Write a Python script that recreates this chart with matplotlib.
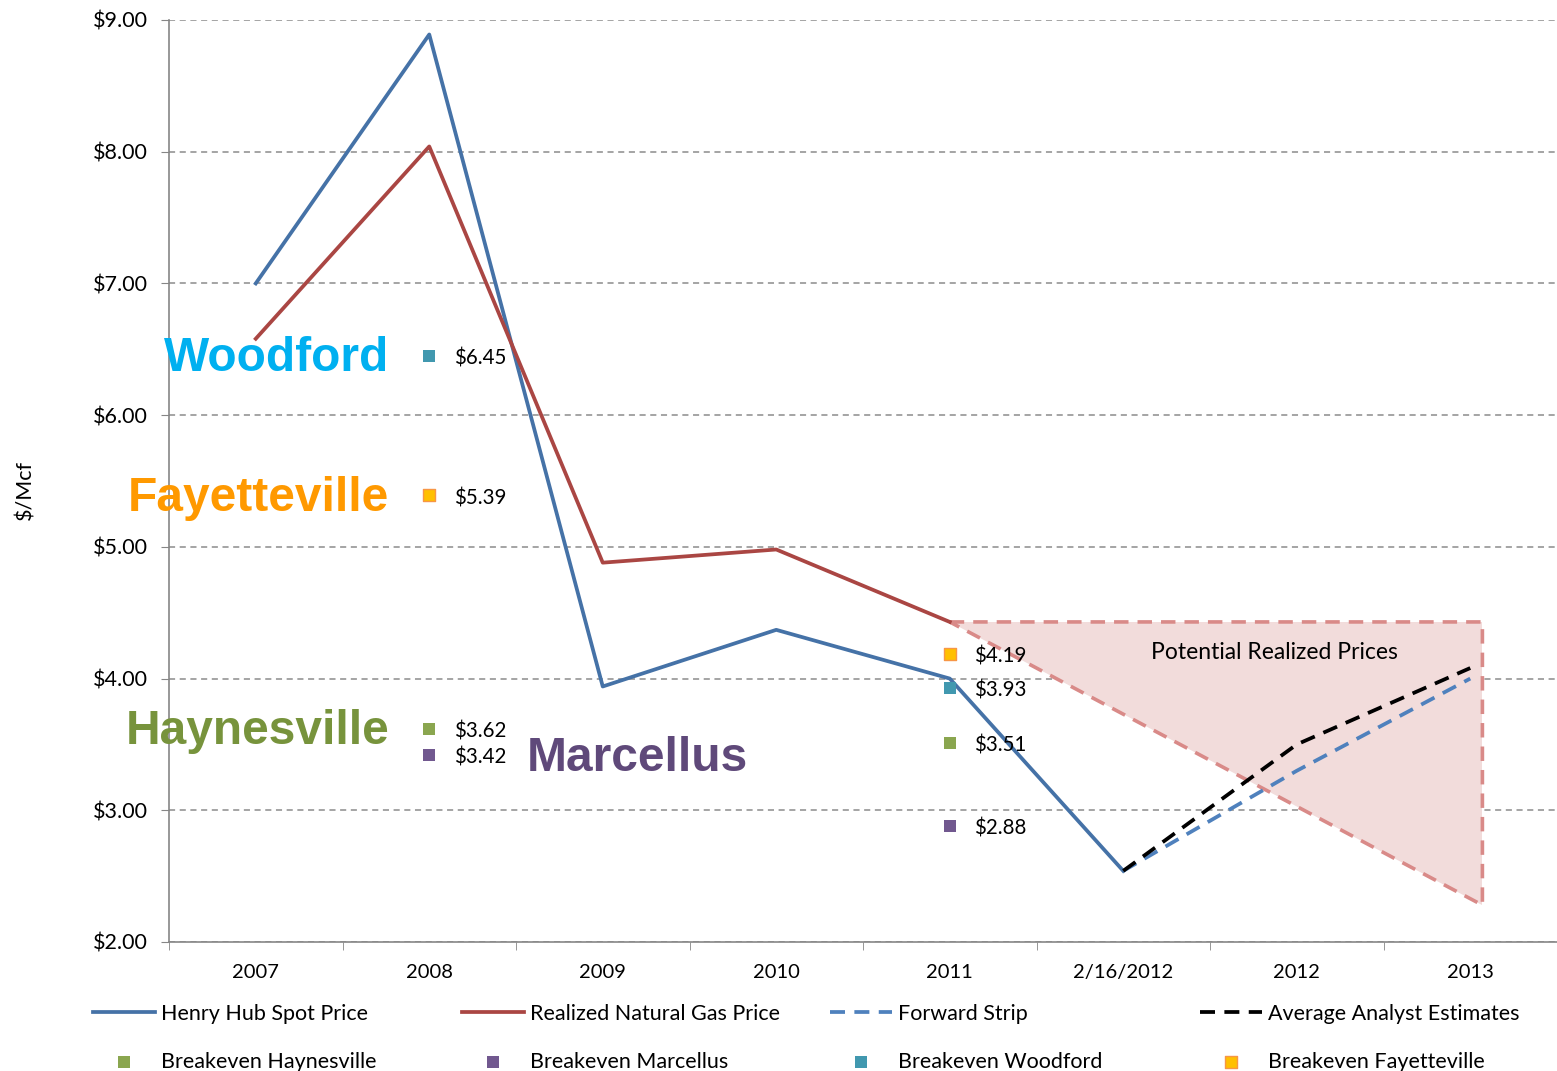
import matplotlib
matplotlib.use("Agg")
import matplotlib.pyplot as plt
from matplotlib.ticker import FixedLocator, FuncFormatter

# dados
categorias = ["2007", "2008", "2009", "2010", "2011", "2/16/2012", "2012", "2013"]
henry_hub = [7.00, 8.89, 3.94, 4.37, 4.00, 2.54]
realizado = [6.58, 8.04, 4.88, 4.98, 4.43]
forward_strip = [2.54, 3.30, 4.00]
analistas = [2.54, 3.50, 4.08]

# breakeven: (2008, 2011)
be_haynesville = [3.62, 3.51]
be_marcellus = [3.42, 2.88]
be_woodford = [6.45, 3.93]
be_fayetteville = [5.39, 4.19]

# triângulo de preços potenciais (2011 -> 2013)
tri_topo = 4.43
tri_base = 2.28

cor_hh = "#4572A7"
cor_real = "#AA4643"
cor_fwd = "#4F81BD"
cor_hay = "#8AA64F"
cor_mar = "#71588F"
cor_woo = "#4198AF"
cor_fay = "#FFC000"

plt.rcParams["font.family"] = ["Lato", "DejaVu Sans"]

fig = plt.figure(figsize=(15.57, 10.71), dpi=100)
ax = fig.add_axes([169/1557, 1 - 942/1071, 1 - 169/1557, (942 - 20)/1071])

x = list(range(len(categorias)))

# triângulo
xt = [4, 7.07, 7.07, 4]
yt = [tri_topo, tri_topo, tri_base, tri_topo]
ax.fill(xt[:3], yt[:3], color="#F2DCDB", zorder=1, lw=0)
ax.plot(xt, yt, color="#D98A88", lw=2.6, dashes=(4, 2.5), zorder=2)
ax.text(5.87, 4.2, "Potential Realized Prices", fontsize=16.5, ha="center", va="center", zorder=3)

# linhas
l_hh, = ax.plot(x[:6], henry_hub, color=cor_hh, lw=2.7, zorder=4)
l_re, = ax.plot(x[:5], realizado, color=cor_real, lw=2.7, zorder=4)
l_fw, = ax.plot(x[5:], forward_strip, color=cor_fwd, lw=2.7, dashes=(4, 2.5), zorder=4)
l_an, = ax.plot(x[5:], analistas, color="black", lw=2.7, dashes=(4, 2.5), zorder=5)

# pontos de breakeven
xb = [1, 4]
m_hay = ax.scatter(xb, be_haynesville, marker="s", s=80, color=cor_hay, zorder=6, lw=0)
m_mar = ax.scatter(xb, be_marcellus, marker="s", s=80, color=cor_mar, zorder=6, lw=0)
m_woo = ax.scatter(xb, be_woodford, marker="s", s=80, color=cor_woo, zorder=6, lw=0)
m_fay = ax.scatter(xb, be_fayetteville, marker="s", s=80, color=cor_fay, edgecolor="#F79646",
                   lw=1, zorder=6)

for serie in [be_haynesville, be_marcellus, be_woodford, be_fayetteville]:
    for xi, v in zip(xb, serie):
        ax.text(xi + 0.14, v - 0.02, f"${v:.2f}", fontsize=14.8, va="center", ha="left", zorder=7)

# nomes das bacias
fonte_grande = ["Liberation Sans", "DejaVu Sans"]
ax.text(0.77, 6.43, "Woodford", fontsize=34.5, fontweight="bold", color="#00B0F0",
        ha="right", va="center", family=fonte_grande)
ax.text(0.77, 5.37, "Fayetteville", fontsize=34.5, fontweight="bold", color="#FF9900",
        ha="right", va="center", family=fonte_grande)
ax.text(0.77, 3.60, "Haynesville", fontsize=34.5, fontweight="bold", color="#77933C",
        ha="right", va="center", family=fonte_grande)
ax.text(1.56, 3.39, "Marcellus", fontsize=34.5, fontweight="bold", color="#5F497A",
        ha="left", va="center", family=fonte_grande)

# eixos
ax.set_xlim(-0.5, 7.5)
ax.set_ylim(2, 9)
ax.set_xticks(x)
ax.set_xticklabels(categorias, fontsize=14.5)
ax.xaxis.set_minor_locator(FixedLocator([i - 0.5 for i in range(9)]))
ax.tick_params(axis="x", which="major", length=0, pad=16)
ax.tick_params(axis="x", which="minor", length=6, color="#868686", direction="out")
ax.set_yticks(range(2, 10))
ax.yaxis.set_major_formatter(FuncFormatter(lambda v, p: f"${v:.2f}"))
ax.tick_params(axis="y", labelsize=15.5, length=6, color="#868686", direction="out", pad=9)
ax.grid(axis="y", color="#8C8C8C", linestyle=(0, (4, 3)), lw=1.1)
ax.set_axisbelow(True)
for lado in ["top", "right"]:
    ax.spines[lado].set_visible(False)
for lado in ["left", "bottom"]:
    ax.spines[lado].set_color("#868686")
    ax.spines[lado].set_linewidth(1.2)
ax.set_ylabel("$/Mcf", fontsize=15.5)
ax.yaxis.set_label_coords(-0.096, 0.49)

# legenda: uma coluna por vez para alinhar como no original
colunas = [
    ([l_hh, m_hay], ["Henry Hub Spot Price", "Breakeven Haynesville"]),
    ([l_re, m_mar], ["Realized Natural Gas Price", "Breakeven Marcellus"]),
    ([l_fw, m_woo], ["Forward Strip", "Breakeven Woodford"]),
    ([l_an, m_fay], ["Average Analyst Estimates", "Breakeven Fayetteville"]),
]
x_colunas = [93, 462, 830, 1200]
for (hs, ls), xc in zip(colunas, x_colunas):
    fig.legend(hs, ls, loc="upper left", bbox_to_anchor=(xc / 1557, 1 - 1004 / 1071),
               frameon=False, fontsize=15.5, handlelength=2.9, handletextpad=0.25,
               borderpad=0, borderaxespad=0, labelspacing=1.3, scatterpoints=1)

fig.savefig("out.png", dpi=100)
